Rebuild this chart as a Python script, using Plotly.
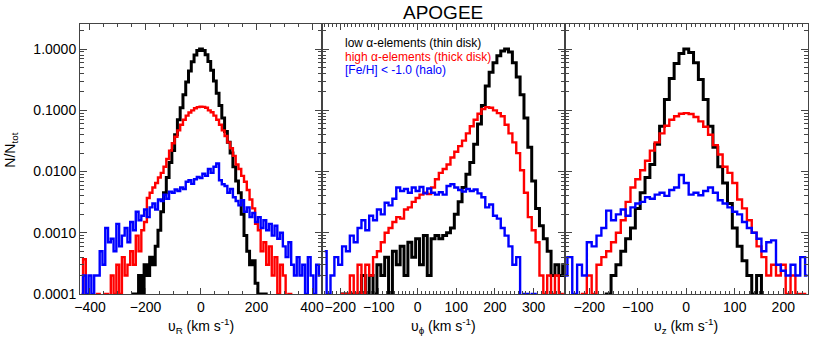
import plotly.graph_objects as go

# bin centres (km/s)
vr_bins = list(range(-430, 440, 10))
vphi_bins = list(range(-240, 390, 10))
vz_bins = list(range(-250, 260, 10))

# v_R histograms, N/N_tot
thin_vr = [0, 0, 0, 0, 0, 0, 0, 0, 0, 0,
           0, 0, 0, 0, 0, 0, 0, 0, 0, 1e-4,
           0, 2e-4, 1e-4, 3e-4, 2e-4, 4e-4, 3e-4, 6e-4, 1.1e-3, 2.2e-3,
           4.5e-3, 8e-3, 0.014, 0.022, 0.04, 0.07, 0.11, 0.18, 0.29, 0.44,
           0.62, 0.80, 0.95, 1.0, 0.95, 0.81, 0.63, 0.45, 0.30, 0.19,
           0.12, 0.075, 0.045, 0.03, 0.02, 0.012, 0.007, 0.0045, 0.002, 0.0009,
           0.0005, 0.0003, 0.00035, 0.00015, 0.0001, 0, 0.0001, 0, 0, 0,
           0, 0, 0, 0, 0, 0, 0, 0, 0, 0,
           0, 0, 0, 0, 0, 0, 0]
thick_vr = [0.0001, 0.00037, 0, 0, 0, 0, 0.0001, 0, 0, 0.0001,
            0, 0.0002, 0.0001, 0.0003, 0.0001, 0.0004, 0.0002, 0.0003, 0.0005, 0.0003,
            0.0009, 0.0005, 0.0011, 0.0015, 0.0037, 0.0045, 0.0055, 0.0065, 0.008, 0.0095,
            0.012, 0.016, 0.022, 0.029, 0.037, 0.047, 0.058, 0.07, 0.082, 0.092,
            0.10, 0.108, 0.113, 0.115, 0.114, 0.11, 0.10, 0.093, 0.082, 0.07,
            0.058, 0.047, 0.038, 0.03, 0.024, 0.018, 0.013, 0.011, 0.0085, 0.0068,
            0.005, 0.0035, 0.0025, 0.0014, 0.0011, 0.0005, 0.0007, 0.0003, 0.0006, 0.0002,
            0.0004, 0.0001, 0.0003, 0.0002, 0, 0.0001, 0, 0, 0, 0,
            0, 0, 0, 0, 0, 0, 0]
halo_vr = [0.0001, 0.0002, 0.0001, 0.0002, 0.0001, 0.0002, 0.0002, 0.0005, 0.0003, 0.0012,
           0.0007, 0.0008, 0.0005, 0.0014, 0.0006, 0.0009, 0.0012, 0.0007, 0.0015, 0.0011,
           0.0022, 0.0016, 0.0019, 0.0024, 0.0018, 0.0026, 0.003, 0.0024, 0.0035, 0.0033,
           0.0042, 0.0036, 0.0047, 0.0045, 0.0051, 0.0048, 0.0055, 0.0052, 0.0068, 0.0072,
           0.0063, 0.0075, 0.0082, 0.0078, 0.0092, 0.0085, 0.011, 0.0095, 0.012, 0.0135,
           0.0072, 0.0062, 0.0058, 0.0045, 0.0052, 0.0038, 0.0033, 0.0028, 0.0034, 0.0022,
           0.0026, 0.0018, 0.0021, 0.0015, 0.0018, 0.0012, 0.0016, 0.0011, 0.0014, 0.0009,
           0.0013, 0.0008, 0.001, 0.0006, 0.0004, 0.0007, 0.0003, 0.0002, 0.0004, 0.0002,
           0.0003, 0.0001, 0.0004, 0.0002, 0.0001, 0.0003, 0.0002]

# v_phi histograms
thin_vphi = [0, 0, 0, 0, 0, 0.0001, 0, 0.0001, 0.0001, 0,
             0.0002, 0.0001, 0.0002, 0.0001, 0.0003, 0.0002, 0.0004, 0.0001, 0.0005, 0.0003,
             0.0006, 0.0002, 0.0007, 0.0004, 0.0008, 0.0003, 0.0009, 0.0002, 0.0008, 0.0009,
             0.0008, 0.0009, 0.001, 0.0012, 0.002, 0.0032, 0.0055, 0.009, 0.014, 0.028,
             0.06, 0.12, 0.25, 0.42, 0.6, 0.78, 0.93, 1.0, 0.9, 0.6,
             0.35, 0.18, 0.075, 0.025, 0.007, 0.0025, 0.0013, 0.0008, 0.0005, 0.0002,
             0.0003, 0.0002, 0.0003]
thick_vphi = [0, 0, 0, 0, 0, 0.0001, 0.0001, 0.0002, 0.0001, 0.0003,
              0.0001, 0.0003, 0.0002, 0.0004, 0.0005, 0.0007, 0.001, 0.0012, 0.0015, 0.0018,
              0.0017, 0.0024, 0.0026, 0.0032, 0.0037, 0.0042, 0.0045, 0.0043, 0.0055, 0.0075,
              0.0095, 0.011, 0.013, 0.017, 0.021, 0.026, 0.032, 0.042, 0.055, 0.07,
              0.088, 0.105, 0.113, 0.11, 0.1, 0.09, 0.08, 0.058, 0.042, 0.03,
              0.02, 0.0105, 0.0045, 0.0018, 0.0011, 0.0007, 0.0002, 0.0001, 0.0002, 0.0001,
              0.0002, 0.0001, 0]
halo_vphi = [0.0005, 0.0001, 0.0002, 0.0004, 0.0003, 0.0006, 0.0005, 0.0009, 0.0007, 0.0012,
             0.0016, 0.0011, 0.0019, 0.0016, 0.0024, 0.002, 0.0031, 0.0028, 0.0036, 0.0055,
             0.0048, 0.0052, 0.0045, 0.0055, 0.0048, 0.0056, 0.0044, 0.0053, 0.0045, 0.0042,
             0.0046, 0.0042, 0.0058, 0.0062, 0.0055, 0.005, 0.0047, 0.0052, 0.0048, 0.0051,
             0.0044, 0.0038, 0.0026, 0.0029, 0.0019, 0.0017, 0.0012, 0.0009, 0.0006, 0.0003,
             0.0004, 0, 0.0001, 0, 0.0001, 0, 0, 0, 0, 0,
             0, 0, 0]

# v_z histograms
thin_vz = [0, 0, 0, 0, 0, 0, 0, 0, 0, 0.0001,
           0.0002, 0.0003, 0.0005, 0.0008, 0.0012, 0.0025, 0.0045, 0.008, 0.013, 0.028,
           0.055, 0.15, 0.33, 0.58, 0.85, 1.0, 0.88, 0.6, 0.32, 0.15,
           0.055, 0.025, 0.012, 0.0065, 0.003, 0.0012, 0.0006, 0.00035, 0.0002, 0.0001,
           0.0002, 0, 0, 0, 0, 0, 0, 0, 0, 0,
           0]
thick_vz = [0, 0, 0, 0, 0.0001, 0.0002, 0.0001, 0.0003, 0.0004, 0.0005,
            0.0007, 0.001, 0.0016, 0.0032, 0.0055, 0.0075, 0.0105, 0.015, 0.022, 0.03,
            0.042, 0.056, 0.07, 0.08, 0.088, 0.09, 0.087, 0.078, 0.066, 0.054,
            0.04, 0.027, 0.019, 0.012, 0.0095, 0.0065, 0.0035, 0.0025, 0.0016, 0.001,
            0.0006, 0.0004, 0.0002, 0.0003, 0.0002, 0.0003, 0.0001, 0.0002, 0.0001, 0.0001,
            0]
halo_vz = [0.0002, 0.0004, 0.0001, 0.0003, 0.0002, 0.0007, 0.0006, 0.0009, 0.0012, 0.0023,
           0.0016, 0.002, 0.0024, 0.0019, 0.0026, 0.003, 0.0032, 0.0038, 0.0036, 0.0042,
           0.0045, 0.004, 0.005, 0.0055, 0.0088, 0.0065, 0.0042, 0.0045, 0.0041, 0.0048,
           0.0055, 0.0045, 0.0034, 0.003, 0.0026, 0.0022, 0.002, 0.0015, 0.0012, 0.001,
           0.0008, 0.0005, 0.0007, 0.00075, 0.0003, 0.00024, 0.0002, 0.0003, 0.0002, 0.0004,
           0.0002]

legend_labels = ["low \u03b1-elements (thin disk)",
                 "high \u03b1-elements (thick disk)",
                 "[Fe/H] < -1.0 (halo)"]
colors = ["#000000", "#ff0000", "#0000ff"]
widths = [3, 2.4, 2.4]
xtitles = ["\u03c5<sub>R</sub> (km s<sup>-1</sup>)",
           "\u03c5<sub>\u03d5</sub> (km s<sup>-1</sup>)",
           "\u03c5<sub>z</sub> (km s<sup>-1</sup>)"]

panels = [
    (vr_bins, [thin_vr, thick_vr, halo_vr]),
    (vphi_bins, [thin_vphi, thick_vphi, halo_vphi]),
    (vz_bins, [thin_vz, thick_vz, halo_vz]),
]

FONT = "Liberation Sans, Arial, sans-serif"
FLOOR = 1e-6  # empty bins drop below the axis

fig = go.Figure()
for i, (bins, series) in enumerate(panels):
    suffix = "" if i == 0 else str(i + 1)
    for vals, col, w in zip(series, colors, widths):
        assert len(vals) == len(bins)
        fig.add_trace(go.Scatter(
            x=bins, y=[v if v > 0 else FLOOR for v in vals],
            mode="lines", line=dict(color=col, width=w, shape="hvh"),
            xaxis="x" + suffix, yaxis="y" + suffix, showlegend=False))

domains = [[0, 0.3324], [0.3324, 0.6662], [0.6662, 1]]
xranges = [[-436, 436], [-247, 381], [-250, 251]]
xticks = [[-400, -200, 0, 200, 400], [-200, -100, 0, 100, 200, 300], [-200, -100, 0, 100, 200]]
xminor = [50, 10, 10]

ymajor = [1e-4, 1e-3, 1e-2, 1e-1, 1]
ylabels = ["0.0001", "0.0010", "0.0100", "0.1000", "1.0000"]
yminor = [k * 10 ** e for e in range(-4, 1) for k in range(2, 10)]

axis_common = dict(showline=True, linecolor="#444444", linewidth=1, mirror="ticks",
                   ticks="inside", tickcolor="#444444", showgrid=False, zeroline=False,
                   tickfont=dict(family=FONT, size=14, color="black"))

layout = dict(width=830, height=346, margin=dict(l=80, r=22, t=24, b=52, autoexpand=False),
              plot_bgcolor="white", paper_bgcolor="white",
              font=dict(family=FONT, color="black"))
for i in range(3):
    suffix = "" if i == 0 else str(i + 1)
    layout["xaxis" + suffix] = dict(
        axis_common, domain=domains[i], range=xranges[i], anchor="y" + suffix,
        tickmode="array", tickvals=xticks[i], ticklen=6,
        minor=dict(ticks="inside", dtick=xminor[i], tick0=0, ticklen=3, tickcolor="#444444"))
    layout["yaxis" + suffix] = dict(
        axis_common, type="log", range=[-4, 0.41], anchor="x" + suffix,
        tickmode="array", tickvals=ymajor, ticktext=ylabels, ticklen=7,
        showticklabels=(i == 0),
        minor=dict(ticks="inside", tickmode="array", tickvals=yminor, ticklen=4,
                   tickcolor="#444444"))
fig.update_layout(**layout)

ann = [dict(text="APOGEE", x=0.4986, y=1.044, xref="paper", yref="paper",
            showarrow=False, font=dict(size=19, family=FONT), xanchor="center", yanchor="middle"),
       dict(text="N/N<sub>tot</sub>", x=-0.094, y=0.533, xref="paper", yref="paper",
            textangle=-90, showarrow=False, font=dict(size=14, family=FONT),
            xanchor="center", yanchor="middle")]
for i, t in enumerate(xtitles):
    ann.append(dict(text=t, x=sum(domains[i]) / 2, y=-0.118, xref="paper", yref="paper",
                    showarrow=False, font=dict(size=14, family=FONT),
                    xanchor="center", yanchor="middle"))
for lab, col, yy in zip(legend_labels, colors, [0.9296, 0.8778, 0.8296]):
    ann.append(dict(text=lab, x=0.3613, y=yy, xref="paper", yref="paper",
                    showarrow=False, font=dict(size=12, family=FONT, color=col),
                    xanchor="left", yanchor="middle"))
fig.update_layout(annotations=ann)

# drop the default page margin so the figure sits at the window corner
fig.write_html("out.html", config={"displayModeBar": False},
               post_script="document.body.style.margin = '0';")
